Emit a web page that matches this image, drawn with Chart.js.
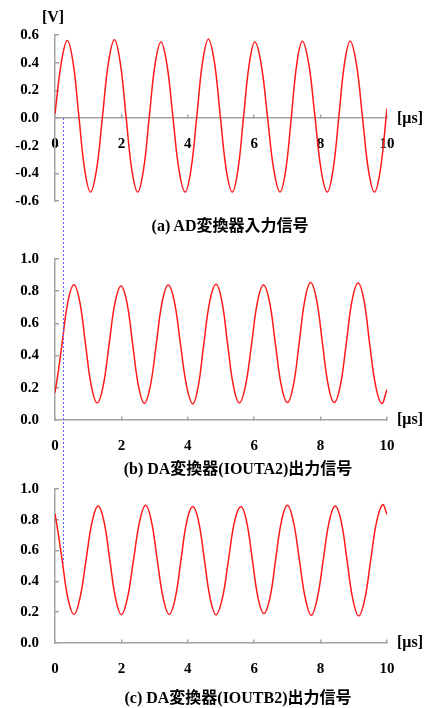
<!DOCTYPE html>
<html>
<head>
<meta charset="utf-8">
<script src="https://cdn.jsdelivr.net/npm/chart.js@4.4.1/dist/chart.umd.min.js"></script>
<style>
  html, body { margin: 0; padding: 0; background: #fff; }
  #page { position: relative; width: 425px; height: 708px; overflow: hidden; }
  canvas { position: absolute; left: 0; }
  .txt {
    position: absolute; white-space: nowrap; color: #000;
    font-family: "Liberation Serif", "Noto Sans CJK JP", serif; font-weight: bold;
    transform: translate(-50%, -50%); line-height: 1;
  }
  .cap { font-size: 16px; }
  .unit { font-size: 16px; }
</style>
</head>
<body>
<div id="page">
  <canvas id="chartA" width="425" height="230" style="top:0"></canvas>
  <canvas id="chartB" width="425" height="230" style="top:230px"></canvas>
  <canvas id="chartC" width="425" height="248" style="top:460px"></canvas>
  <canvas id="overlay" width="425" height="708" style="top:0;pointer-events:none"></canvas>

  <div class="txt unit" style="left:53px;top:17px">[V]</div>
  <div class="txt unit" style="left:410px;top:118px">[μs]</div>
  <div class="txt unit" style="left:410px;top:419px">[μs]</div>
  <div class="txt unit" style="left:410px;top:642px">[μs]</div>

  <div class="txt cap" style="left:230px;top:226px">(a) AD変換器入力信号</div>
  <div class="txt cap" style="left:238px;top:469px">(b) DA変換器(IOUTA2)出力信号</div>
  <div class="txt cap" style="left:238px;top:698px">(c) DA変換器(IOUTB2)出力信号</div>
</div>
<script>
// 時間軸 [μs]
const xTicks = [0, 2, 4, 6, 8, 10];

// (a) AD変換器入力信号 [V]
const timeA = [0.00, 0.19, 0.37, 0.545, 0.72, 0.895, 1.07, 1.25, 1.43, 1.61, 1.79, 1.965, 2.14, 2.315, 2.49, 2.665,
  2.84, 3.015, 3.19, 3.37, 3.55, 3.735, 3.92, 4.095, 4.27, 4.445, 4.62, 4.80, 4.98, 5.16, 5.34, 5.51,
  5.68, 5.85, 6.02, 6.21, 6.40, 6.59, 6.78, 6.95, 7.12, 7.285, 7.45, 7.64, 7.83, 8.015, 8.20, 8.375,
  8.55, 8.72, 8.89, 9.075, 9.26, 9.44, 9.62, 9.80, 10.0];
const voltA = [0.03, 0.40, 0.56, 0.40, 0.01, -0.375, -0.535, -0.375, 0.01, 0.40, 0.565, 0.40, 0.01, -0.375, -0.535, -0.375,
  0.01, 0.39, 0.55, 0.39, 0.01, -0.375, -0.535, -0.375, 0.01, 0.405, 0.57, 0.405, 0.01, -0.375, -0.535, -0.375,
  0.01, 0.39, 0.55, 0.39, 0.01, -0.375, -0.535, -0.375, 0.01, 0.395, 0.555, 0.395, 0.01, -0.375, -0.535, -0.375,
  0.01, 0.395, 0.555, 0.395, 0.01, -0.375, -0.535, -0.375, 0.07];

// (b) DA変換器(IOUTA2)出力信号
const timeB = [0.00, 0.105, 0.21, 0.39, 0.57, 0.745, 0.92, 1.095, 1.27, 1.45, 1.63, 1.81, 1.99, 2.165, 2.34, 2.515,
  2.69, 2.87, 3.05, 3.23, 3.41, 3.595, 3.78, 3.965, 4.15, 4.315, 4.48, 4.665, 4.85, 5.025, 5.20, 5.375,
  5.55, 5.735, 5.92, 6.10, 6.28, 6.46, 6.64, 6.82, 7.00, 7.175, 7.35, 7.525, 7.70, 7.88, 8.06, 8.235,
  8.41, 8.59, 8.77, 8.95, 9.13, 9.305, 9.48, 9.66, 9.84, 10.0];
const voltB = [0.17, 0.31, 0.47, 0.735, 0.84, 0.735, 0.47, 0.21, 0.106, 0.21, 0.47, 0.73, 0.832, 0.73, 0.47, 0.21,
  0.103, 0.21, 0.47, 0.735, 0.838, 0.735, 0.47, 0.21, 0.10, 0.21, 0.47, 0.74, 0.843, 0.74, 0.47, 0.21,
  0.106, 0.21, 0.47, 0.735, 0.838, 0.735, 0.47, 0.21, 0.108, 0.21, 0.47, 0.745, 0.854, 0.745, 0.47, 0.21,
  0.108, 0.21, 0.47, 0.745, 0.851, 0.745, 0.47, 0.21, 0.103, 0.19];

// (c) DA変換器(IOUTB2)出力信号
const timeC = [0.00, 0.105, 0.215, 0.39, 0.57, 0.75, 0.935, 1.12, 1.30, 1.475, 1.65, 1.825, 2.00, 2.18, 2.365, 2.55,
  2.73, 2.905, 3.08, 3.26, 3.44, 3.62, 3.795, 3.97, 4.15, 4.325, 4.50, 4.675, 4.85, 5.04, 5.225, 5.41,
  5.60, 5.77, 5.945, 6.12, 6.29, 6.47, 6.645, 6.82, 7.00, 7.18, 7.36, 7.54, 7.72, 7.90, 8.08, 8.26,
  8.44, 8.62, 8.795, 8.97, 9.15, 9.33, 9.51, 9.69, 9.87, 10.0];
const voltC = [0.84, 0.70, 0.54, 0.29, 0.186, 0.29, 0.54, 0.79, 0.89, 0.79, 0.54, 0.29, 0.184, 0.29, 0.54, 0.79,
  0.894, 0.79, 0.54, 0.29, 0.186, 0.29, 0.54, 0.79, 0.886, 0.79, 0.54, 0.29, 0.184, 0.29, 0.54, 0.79,
  0.886, 0.79, 0.54, 0.29, 0.191, 0.29, 0.54, 0.79, 0.894, 0.79, 0.54, 0.29, 0.18, 0.29, 0.54, 0.79,
  0.89, 0.79, 0.54, 0.285, 0.176, 0.285, 0.54, 0.79, 0.898, 0.835];

// 青い破線マーカー (時刻と終点)
const markerTime = 0.23;
const markerEndC = 0.52;

const AXIS_GRAY = '#a3a3a3';
const tickFont = { family: 'Liberation Serif', size: 15, weight: 'bold' };

const toPoints = (xs, ys) => xs.map((x, i) => ({ x, y: ys[i] }));

// 共通の設定を作る (x軸は y=0 の位置に置く)
const makeChart = (id, xs, ys, yMin, yMax, pad) => {
  const ctx = document.getElementById(id).getContext('2d');
  return new Chart(ctx, {
    type: 'line',
    data: {
      datasets: [{
        data: toPoints(xs, ys),
        borderColor: '#ff1a1a',
        borderWidth: 1.5,
        pointRadius: 0,
        tension: 0.4,
        fill: false
      }]
    },
    options: {
      responsive: false,
      animation: false,
      devicePixelRatio: 1,
      layout: { padding: pad },
      plugins: { legend: { display: false }, tooltip: { enabled: false } },
      scales: {
        x: {
          type: 'linear',
          position: { y: 0 },
          min: 0, max: 10,
          afterFit: s => { s.height = 0; },
          afterBuildTicks: s => { s.ticks = xTicks.map(v => ({ value: v })); },
          ticks: { font: tickFont, color: '#000', padding: 21, maxRotation: 0, autoSkip: false },
          grid: { drawOnChartArea: false, drawTicks: true, tickLength: -4, color: AXIS_GRAY, lineWidth: 1.5 },
          border: { display: true, color: AXIS_GRAY, width: 1.5 }
        },
        y: {
          min: yMin, max: yMax,
          afterFit: s => { s.width = 55; },
          ticks: {
            stepSize: 0.2, font: tickFont, color: '#000', padding: 20,
            callback: v => Number(v).toFixed(1)
          },
          grid: { drawOnChartArea: false, drawTicks: true, tickLength: -4, color: AXIS_GRAY, lineWidth: 1.5 },
          border: { display: true, color: AXIS_GRAY, width: 1.5 }
        }
      }
    }
  });
};

const chartA = makeChart('chartA', timeA, voltA, -0.6, 0.6, { left: 0, right: 38, top: 35, bottom: 28 });
const chartB = makeChart('chartB', timeB, voltB, 0, 1.0, { left: 0, right: 38, top: 11, bottom: 40 });
const chartC = makeChart('chartC', timeC, voltC, 0, 1.0, { left: 0, right: 38, top: 26, bottom: 65 });

// 3つのパネルを貫く青い破線
const ov = document.getElementById('overlay').getContext('2d');
const mx = Math.round(chartA.scales.x.getPixelForValue(markerTime)) + 0.5;
const y1 = chartA.scales.y.getPixelForValue(0);
const y2 = 460 + chartC.scales.y.getPixelForValue(markerEndC);
ov.strokeStyle = '#5c5cff';
ov.lineWidth = 1;
ov.setLineDash([2, 2]);
ov.beginPath();
ov.moveTo(mx, y1);
ov.lineTo(mx, y2);
ov.stroke();
</script>
</body>
</html>
